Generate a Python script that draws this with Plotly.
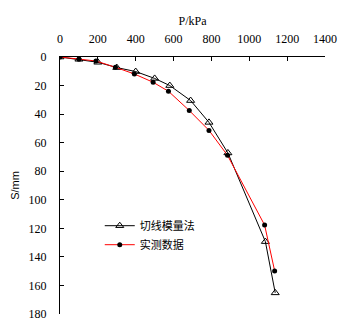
import plotly.graph_objects as go

p_tangent = [0, 100, 200, 300, 400, 500, 580, 690, 787, 887, 1085, 1137]
s_tangent = [0, 1.6, 3.7, 7.4, 10.2, 15, 20, 30.5, 45.8, 67.2, 129.3, 165.2]
p_measured = [0, 100, 190, 293, 393, 492, 573, 683, 787, 885, 1081, 1134]
s_measured = [0, 1.6, 2.8, 7.2, 11.9, 17.7, 24, 37.5, 51.4, 68.9, 117.7, 149.8]
name_tangent = "切线模量法"
name_measured = "实测数据"
x_ticks = [0, 200, 400, 600, 800, 1000, 1200, 1400]
y_ticks = [0, 20, 40, 60, 80, 100, 120, 140, 160, 180]

fig = go.Figure()
fig.add_trace(go.Scatter(x=p_tangent, y=s_tangent, name=name_tangent, mode="lines+markers",
                         line=dict(color="black", width=1),
                         marker=dict(symbol="triangle-up-open", size=7, color="black", line=dict(width=1))))
fig.add_trace(go.Scatter(x=p_measured, y=s_measured, name=name_measured, mode="lines+markers",
                         line=dict(color="red", width=1),
                         marker=dict(symbol="circle", size=5, color="black")))

tf = dict(family="Liberation Serif, serif", size=12, color="black")
fig.update_layout(
    width=349, height=333,
    margin=dict(l=60, r=18, t=57, b=18),
    paper_bgcolor="white", plot_bgcolor="white",
    font=dict(family="Noto Sans CJK SC", size=12, color="black"),
    showlegend=True,
    legend=dict(x=0.15, y=0.40, xanchor="left", yanchor="top",
                bgcolor="rgba(0,0,0,0)", font=dict(family="Noto Sans CJK SC", size=11),
                tracegroupgap=0, itemwidth=30),
    xaxis=dict(side="top", range=[0, 1400], tickvals=x_ticks, showgrid=False, zeroline=False,
               showline=True, linecolor="black", linewidth=1, ticks="inside", ticklen=4,
               tickcolor="black", tickfont=tf, ticklabelstandoff=8,
               title=dict(text="P/kPa", font=tf, standoff=4)),
    yaxis=dict(range=[180, 0], tickvals=y_ticks, showgrid=False, zeroline=False,
               showline=True, linecolor="black", linewidth=1, ticks="inside", ticklen=4,
               tickcolor="black", tickfont=tf, ticklabelstandoff=10,
               title=dict(text="S/mm", font=dict(family="Liberation Sans, sans-serif", size=11), standoff=6)),
)
fig.write_html("out.html")
